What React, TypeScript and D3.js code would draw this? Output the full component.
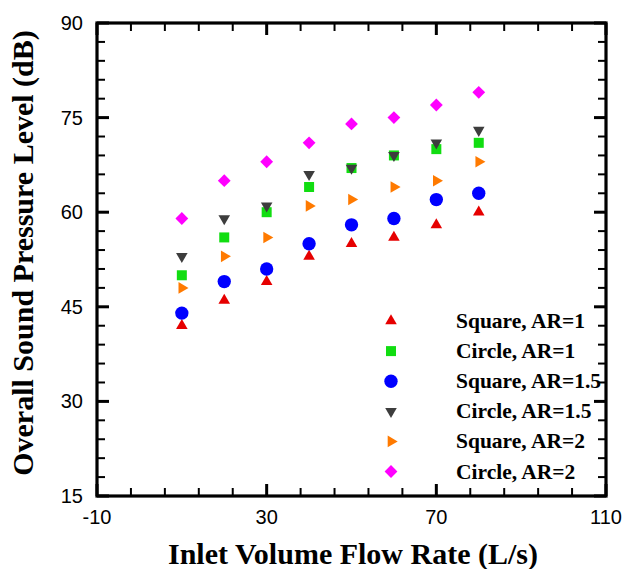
import React from "react";
import * as d3 from "d3";

const flowRates = [10, 20, 30, 40, 50, 60, 70, 80];
const squareAR1 = [42, 46, 49, 53, 55, 56, 58, 60];
const circleAR1 = [50, 56, 60, 64, 67, 69, 70, 71];
const squareAR15 = [44, 49, 51, 55, 58, 59, 62, 63];
const circleAR15 = [53, 59, 61, 66, 67, 69, 71, 73];
const squareAR2 = [48, 53, 56, 61, 62, 64, 65, 68];
const circleAR2 = [59, 65, 68, 71, 74, 75, 77, 79];

const seriesNames = [
  "Square, AR=1",
  "Circle, AR=1",
  "Square, AR=1.5",
  "Circle, AR=1.5",
  "Square, AR=2",
  "Circle, AR=2",
];
const xTicks = [-10, 30, 70, 110];
const yTicks = [15, 30, 45, 60, 75, 90];

const W = 633;
const H = 569;
const L = 97;
const R = 606;
const T = 23;
const B = 496;

type Style = { color: string; shape: d3.SymbolType; size: number; rotate: number };
const styles: Style[] = [
  { color: "#e60000", shape: d3.symbolTriangle, size: 58, rotate: 0 },
  { color: "#11dd11", shape: d3.symbolSquare, size: 100, rotate: 0 },
  { color: "#0000ff", shape: d3.symbolCircle, size: 140, rotate: 0 },
  { color: "#3d3d3d", shape: d3.symbolTriangle, size: 58, rotate: 180 },
  { color: "#ff7a00", shape: d3.symbolTriangle, size: 58, rotate: 90 },
  { color: "#ff00ff", shape: d3.symbolSquare, size: 82, rotate: 45 },
];

export default function App() {
  const x = d3.scaleLinear().domain([-10, 110]).range([L, R]);
  const y = d3.scaleLinear().domain([15, 90]).range([B, T]);
  const series = [squareAR1, circleAR1, squareAR15, circleAR15, squareAR2, circleAR2];

  const minorX = d3.range(0, 16).map((i) => -10 + i * 8).filter((v) => !xTicks.includes(v));
  const minorY = d3.range(0, 26).map((i) => 15 + i * 3).filter((v) => !yTicks.includes(v));

  const serif = "'Liberation Serif', 'Times New Roman', serif";
  const sans = "'Liberation Sans', Arial, sans-serif";

  const majLen = 12;
  const minLen = 8;

  return (
    <div style={{ position: "fixed", left: 0, top: 0 }}>
      <svg width={W} height={H} style={{ display: "block", background: "#fff" }}>
        <rect x={0} y={0} width={W} height={H} fill="#fff" />
        <g stroke="#000" strokeWidth={2} fill="none">
          {minorX.map((v) => (
            <React.Fragment key={"mx" + v}>
              <line x1={x(v)} x2={x(v)} y1={B} y2={B - minLen} />
              <line x1={x(v)} x2={x(v)} y1={T} y2={T + minLen} />
            </React.Fragment>
          ))}
          {minorY.map((v) => (
            <React.Fragment key={"my" + v}>
              <line x1={L} x2={L + minLen} y1={y(v)} y2={y(v)} />
              <line x1={R} x2={R - minLen} y1={y(v)} y2={y(v)} />
            </React.Fragment>
          ))}
        </g>
        <g stroke="#000" strokeWidth={3} fill="none">
          {xTicks.map((v) => (
            <React.Fragment key={"Mx" + v}>
              <line x1={x(v)} x2={x(v)} y1={B} y2={B - majLen} />
              <line x1={x(v)} x2={x(v)} y1={T} y2={T + majLen} />
            </React.Fragment>
          ))}
          {yTicks.map((v) => (
            <React.Fragment key={"My" + v}>
              <line x1={L} x2={L + majLen} y1={y(v)} y2={y(v)} />
              <line x1={R} x2={R - majLen} y1={y(v)} y2={y(v)} />
            </React.Fragment>
          ))}
          <rect x={L} y={T} width={R - L} height={B - T} strokeWidth={3.2} />
        </g>
        {/* tick labels */}
        {xTicks.map((v) => (
          <text key={"xt" + v} x={x(v)} y={524} textAnchor="middle" fontFamily={sans} fontSize={20} fill="#000">
            {v}
          </text>
        ))}
        {yTicks.map((v) => (
          <text key={"yt" + v} x={83} y={y(v)} dy="0.35em" textAnchor="end" fontFamily={sans} fontSize={20} fill="#000">
            {v}
          </text>
        ))}
        {/* axis titles */}
        <text x={353} y={564} textAnchor="middle" fontFamily={serif} fontWeight="bold" fontSize={30} fill="#000">
          Inlet Volume Flow Rate (L/s)
        </text>
        <text
          transform={`translate(33, 253) rotate(-90)`}
          textAnchor="middle"
          fontFamily={serif}
          fontWeight="bold"
          fontSize={30}
          fill="#000"
        >
          Overall Sound Pressure Level (dB)
        </text>
        {/* data */}
        {series.map((vals, si) => {
          const st = styles[si];
          const path = d3.symbol().type(st.shape).size(st.size)() as string;
          return (
            <g key={"s" + si}>
              {vals.map((v, i) => (
                <path
                  key={i}
                  d={path}
                  fill={st.color}
                  transform={`translate(${x(flowRates[i])}, ${y(v)}) rotate(${st.rotate})`}
                />
              ))}
            </g>
          );
        })}
        {/* legend */}
        {seriesNames.map((name, i) => {
          const st = styles[i];
          const path = d3.symbol().type(st.shape).size(st.size)() as string;
          const ly = 321 + i * 30.1;
          return (
            <g key={"lg" + i}>
              <path d={path} fill={st.color} transform={`translate(391, ${ly}) rotate(${st.rotate})`} />
              <text x={456} y={ly} dy="0.33em" fontFamily={serif} fontWeight="bold" fontSize={21.5} fill="#000">
                {name}
              </text>
            </g>
          );
        })}
      </svg>
    </div>
  );
}
